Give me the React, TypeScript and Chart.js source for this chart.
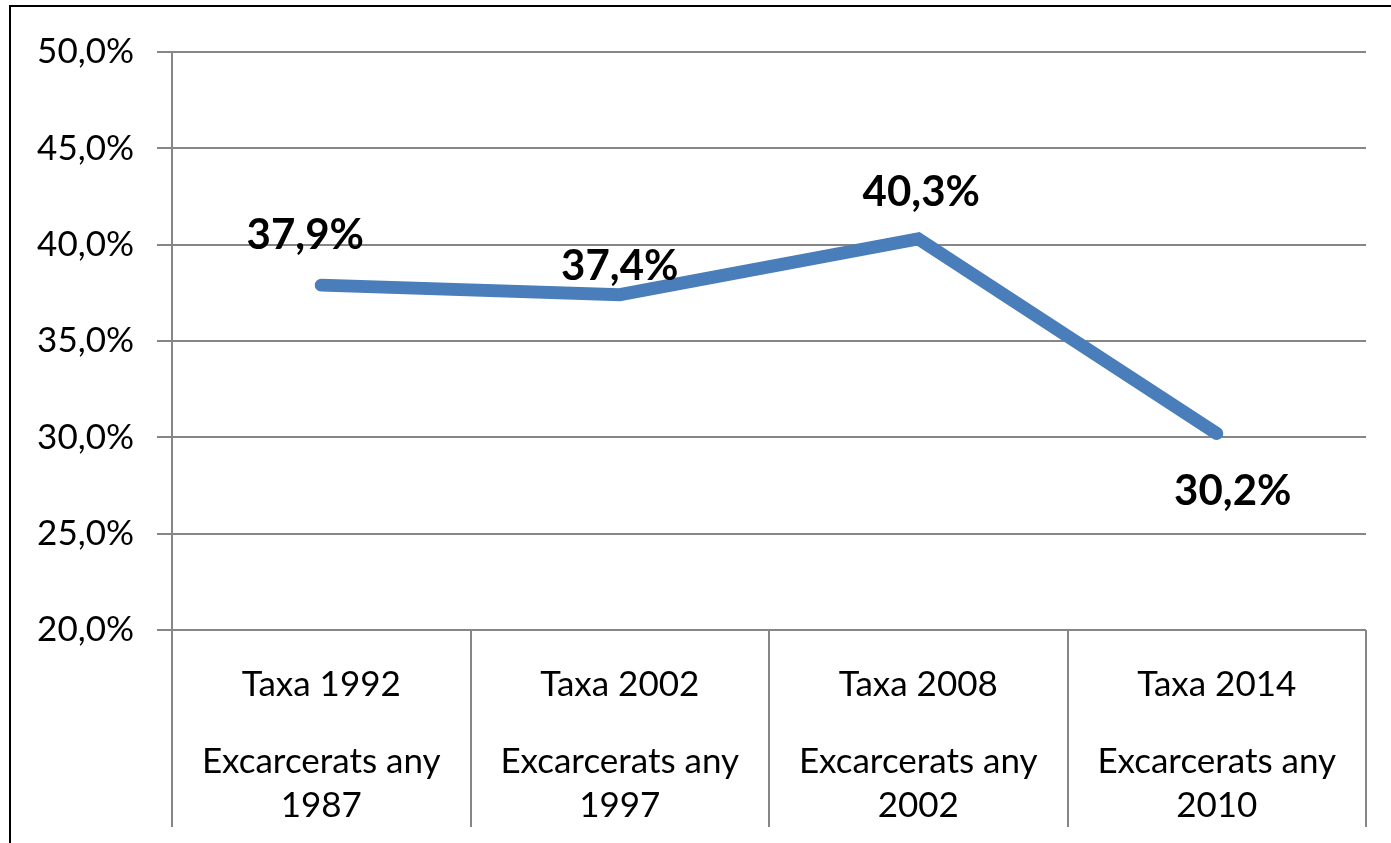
import React, { useEffect, useRef } from "react";
import { Chart, registerables } from "chart.js";

Chart.register(...registerables);

const RATE_LABELS = ["Taxa 1992", "Taxa 2002", "Taxa 2008", "Taxa 2014"];
const RELEASE_TEXT = ["Excarcerats any", "Excarcerats any", "Excarcerats any", "Excarcerats any"];
const RELEASE_YEARS = ["1987", "1997", "2002", "2010"];
const RECIDIVISM = [37.9, 37.4, 40.3, 30.2];
const Y_MIN = 20;
const Y_MAX = 50;
const Y_STEP = 5;

// label placement offsets (px) relative to each point: [dx, dy]
const LABEL_DX = [-16, 0, 3, 16];
const LABEL_DY = [-51, -30, -48, 56];

const FONT = "Lato, 'Open Sans', sans-serif";
const GRID = "#868686";

const fmt = (v: number) => v.toFixed(1).replace(".", ",") + "%";

export default function App() {
  const ref = useRef<HTMLCanvasElement | null>(null);

  useEffect(() => {
    document.body.style.margin = "0";
    document.body.style.overflow = "hidden";
    if (!ref.current) return;

    const framePlugin = {
      id: "frame",
      beforeDraw(chart: any) {
        const { ctx, width, height } = chart;
        ctx.save();
        ctx.fillStyle = "#ffffff";
        ctx.fillRect(0, 0, width, height);
        ctx.strokeStyle = "#000000";
        ctx.lineWidth = 2;
        ctx.beginPath();
        ctx.moveTo(10, height + 5);
        ctx.lineTo(10, 6);
        ctx.lineTo(width + 5, 6);
        ctx.stroke();
        ctx.restore();
      },
    };

    const labelPlugin = {
      id: "pointLabels",
      afterDatasetsDraw(chart: any) {
        const { ctx } = chart;
        const meta = chart.getDatasetMeta(0);
        const size = 42;
        ctx.save();
        ctx.font = `bold ${size}px ${FONT}`;
        ctx.fillStyle = "#000000";
        ctx.textAlign = "center";
        ctx.textBaseline = "alphabetic";
        meta.data.forEach((el: any, i: number) => {
          const x = el.x + LABEL_DX[i];
          const y = el.y + LABEL_DY[i] + size * 0.36;
          ctx.fillText(fmt(RECIDIVISM[i]), x, y);
        });
        ctx.restore();
      },
    };

    const xLabelPlugin = {
      id: "xLabels",
      afterDraw(chart: any) {
        const { ctx } = chart;
        const xs = chart.scales.x;
        const bottom = chart.chartArea.bottom;
        const size = 35;
        ctx.save();
        ctx.font = `${size}px ${FONT}`;
        ctx.fillStyle = "#000000";
        ctx.textAlign = "center";
        ctx.textBaseline = "alphabetic";
        const offs = [53, 130, 174];
        RATE_LABELS.forEach((_, i) => {
          const x = xs.getPixelForValue(i);
          const lines = [RATE_LABELS[i], RELEASE_TEXT[i], RELEASE_YEARS[i]];
          lines.forEach((t, j) => {
            ctx.fillText(t, x, bottom + offs[j] + size * 0.36);
          });
        });
        ctx.restore();
      },
    };

    const chart = new Chart(ref.current, {
      type: "line",
      data: {
        labels: RATE_LABELS.map((r, i) => `${r} ${RELEASE_TEXT[i]} ${RELEASE_YEARS[i]}`),
        datasets: [
          {
            data: RECIDIVISM,
            borderColor: "#4A7EBB",
            backgroundColor: "#4A7EBB",
            borderWidth: 13,
            pointRadius: 0,
            pointHoverRadius: 0,
            tension: 0,
            borderCapStyle: "round",
            borderJoinStyle: "miter",
            fill: false,
          },
        ],
      },
      options: {
        animation: false,
        responsive: true,
        maintainAspectRatio: false,
        layout: { padding: { top: 52, right: 25, bottom: 0, left: 0 } },
        plugins: {
          legend: { display: false },
          tooltip: { enabled: false },
          title: { display: false },
        },
        scales: {
          x: {
            type: "category",
            offset: true,
            grid: {
              offset: true,
              drawOnChartArea: false,
              drawTicks: true,
              tickLength: 197,
              color: GRID,
              lineWidth: 2,
            },
            border: { display: false },
            ticks: { display: false },
            afterFit(scale: any) {
              scale.height = 213;
            },
          },
          y: {
            min: Y_MIN,
            max: Y_MAX,
            grid: {
              color: GRID,
              lineWidth: 2,
              tickLength: 15,
            },
            border: { display: true, color: GRID, width: 2 },
            ticks: {
              stepSize: Y_STEP,
              padding: 23,
              color: "#000000",
              font: { family: FONT, size: 35 },
              callback: (v: any) => fmt(Number(v)),
            },
            afterFit(scale: any) {
              scale.width = 172;
            },
          },
        },
      },
      plugins: [framePlugin, labelPlugin, xLabelPlugin],
    } as any);

    return () => chart.destroy();
  }, []);

  return (
    <div style={{ width: 1391, height: 843, position: "relative" }}>
      <canvas ref={ref} />
    </div>
  );
}
